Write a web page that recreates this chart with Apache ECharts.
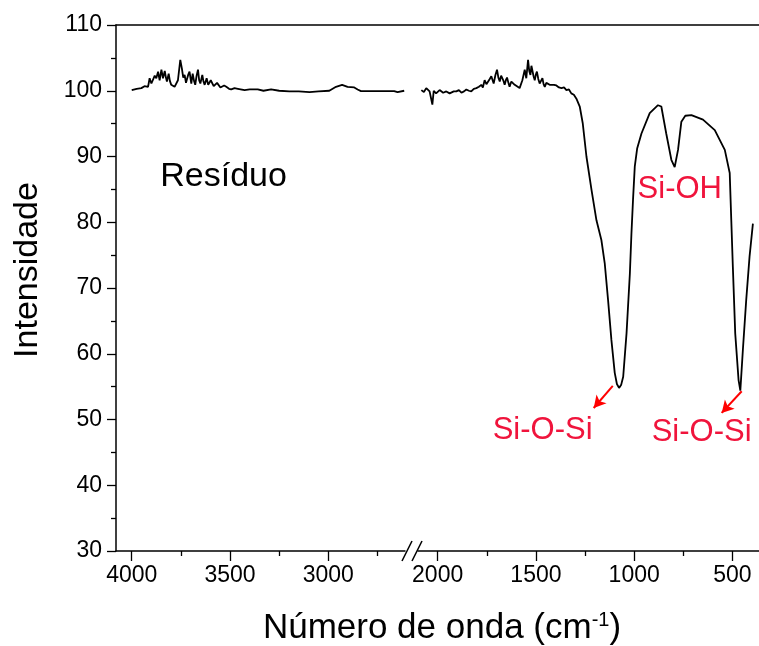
<!DOCTYPE html>
<html>
<head>
<meta charset="utf-8">
<title>FTIR Resíduo</title>
<script src="https://cdn.jsdelivr.net/npm/echarts@6/dist/echarts.min.js"></script>
<style>
  html, body { margin: 0; padding: 0; background: #fff; }
  #chartLine { width: 759px; height: 646px; }
</style>
</head>
<body>
<div id="chartLine"></div>
<script>
// segmento esquerdo (4000 - 2610 cm-1)
var waveLeft = [4000, 3975, 3951, 3935, 3917, 3909, 3900, 3892, 3883, 3875, 3866, 3858, 3849, 3841, 3832, 3826, 3821, 3812, 3806, 3799, 3790, 3782, 3765, 3753, 3745, 3738, 3731, 3724, 3718, 3712, 3706,
  3697, 3690, 3683, 3677, 3670, 3663, 3657, 3651, 3641, 3635, 3629, 3619, 3611, 3604, 3598, 3592, 3583, 3575, 3566, 3558, 3549, 3541, 3530, 3519, 3505, 3494, 3477, 3460, 3426, 3400, 3359, 3330, 3291,
  3250, 3198, 3150, 3096, 3050, 2995, 2961, 2930, 2902, 2868, 2851, 2834, 2741, 2665, 2648, 2614];
var intLeft = [100.1, 100.3, 100.4, 100.7, 100.6, 101.9, 101.1, 101.4, 102.3, 101.9, 102.9, 101.6, 103.2, 101.9, 103.0, 102.0, 101.4, 102.6, 101.5, 100.9, 101.2, 100.6, 101.6, 104.7, 103.4, 102.0, 102.4, 101.2, 101.4, 102.5, 102.9,
  101.1, 102.6, 101.5, 100.9, 102.3, 103.2, 101.6, 101.1, 102.4, 101.4, 100.9, 101.9, 100.9, 100.8, 101.6, 101.4, 100.7, 100.6, 101.2, 101.0, 100.5, 100.4, 100.8, 100.6, 100.3, 100.2, 100.4, 100.3, 100.1, 100.2, 100.2, 100.0, 100.2,
  100.0, 99.9, 99.9, 99.8, 99.9, 100.0, 100.6, 100.9, 100.6, 100.5, 100.2, 99.95, 99.95, 99.95, 99.8, 100.0];

// segmento direito (2100 - 365 cm-1)
var waveRight = [2083, 2070, 2058, 2041, 2027, 2020, 2008, 1998, 1990, 1981, 1972, 1964, 1956, 1948, 1939, 1930, 1918, 1905, 1892, 1879, 1866, 1854, 1841, 1829, 1816, 1803, 1790, 1778, 1770, 1761, 1752, 1744, 1735, 1727, 1715,
  1706, 1698, 1691, 1684, 1677, 1671, 1665, 1659, 1653, 1647, 1640, 1634, 1625, 1617, 1608, 1600, 1583, 1569, 1557, 1549, 1540, 1534, 1528, 1523, 1518, 1512, 1506, 1500, 1495, 1488, 1481, 1474, 1467, 1461, 1455,
  1447, 1439, 1430, 1421, 1408, 1396, 1383, 1370, 1357, 1345, 1332, 1320, 1307, 1294, 1277, 1262, 1243, 1217, 1192, 1167, 1150, 1133, 1116, 1099, 1088, 1077, 1066, 1056,
  1039, 1022, 1014, 1006, 997, 985, 963, 921, 879, 862, 837, 811, 794, 777, 760, 740, 709, 650, 590, 539, 514, 506,
  498, 486, 469, 460, 447, 430, 413, 396];
var intRight = [100.1, 99.8, 100.4, 99.9, 97.9, 100.0, 99.6, 99.7, 100.1, 100.2, 99.7, 99.4, 99.9, 100.0, 99.6, 99.5, 99.9, 99.9, 100.1, 99.7, 99.9, 100.2, 100.0, 99.9, 100.3, 100.4, 100.6, 100.9, 100.5, 101.6, 101.0, 100.9, 101.8, 102.2, 101.1,
  102.4, 103.2, 102.0, 101.4, 102.3, 102.6, 101.5, 100.9, 101.6, 102.0, 101.2, 100.6, 101.4, 101.6, 100.9, 100.6, 100.4, 101.6, 103.2, 101.9, 104.7, 103.0, 102.4, 103.8, 103.6, 102.2, 101.6, 102.5, 102.9, 101.8, 101.1, 101.5, 101.9, 101.0, 100.6,
  101.2, 101.4, 100.9, 100.6, 100.9, 100.8, 100.5, 100.4, 100.5, 100.1, 100.2, 99.6, 99.4, 98.8, 97.6, 95.1, 90.0, 84.9, 80.3, 77.3, 73.8, 68.2, 62.1, 57.1, 55.4, 54.8, 55.3, 56.5,
  63.1, 72.2, 78.3, 83.4, 88.5, 91.2, 93.5, 96.6, 97.8, 97.6, 93.5, 89.5, 88.4, 91.0, 95.3, 96.2, 96.3, 95.6, 94.0, 91.0, 87.5, 80.3,
  73.2, 63.1, 56.0, 54.4, 60.6, 68.2, 74.8, 79.8];

// ticks
var ticksLeft = [4000, 3500, 3000];
var minorLeft = [3750, 3250, 2750];
var ticksRight = [2000, 1500, 1000, 500];
var minorRight = [1750, 1250, 750];

function pairs(xs, ys) {
  var out = [];
  for (var i = 0; i < xs.length; i++) out.push([xs[i], ys[i]]);
  return out;
}

var FONT = '"Liberation Sans", Arial, sans-serif';
var RED = '#f0143c';
var GL = 116, GT = 25, GH = 526, BREAK_L = 405, BREAK_R = 418;

var chartLine = echarts.init(document.getElementById('chartLine'));

function xBottom(grid, min, max, major) {
  return {
    type: 'value', gridIndex: grid, position: 'bottom', inverse: true, min: min, max: max,
    axisLine: { show: true, lineStyle: { color: '#000', width: 1.5 } },
    axisTick: { show: true, length: 10, customValues: major, lineStyle: { color: '#000', width: 1.3 } },
    axisLabel: {
      show: true, customValues: major, margin: 13, color: '#000', fontSize: 23, fontFamily: FONT,
      formatter: function (v) { return String(v); }
    },
    splitLine: { show: false }
  };
}
function xMinor(grid, min, max, minor) {
  return {
    type: 'value', gridIndex: grid, position: 'bottom', inverse: true, min: min, max: max, offset: 0,
    axisLine: { show: false },
    axisTick: { show: true, length: 5, customValues: minor, lineStyle: { color: '#000', width: 1.3 } },
    axisLabel: { show: false },
    splitLine: { show: false }
  };
}
function yHidden(grid) {
  return { type: 'value', gridIndex: grid, min: 30, max: 110, show: false, splitLine: { show: false } };
}

chartLine.setOption({
  animation: false,
  backgroundColor: '#fff',
  grid: [
    { left: GL, top: GT, width: BREAK_L - GL, height: GH },
    { left: BREAK_R, top: GT, right: 0, height: GH },
    { left: GL, top: GT, right: 0, height: GH } // moldura de cima
  ],
  xAxis: [
    xBottom(0, 2610, 4080, ticksLeft),
    xMinor(0, 2610, 4080, minorLeft),
    xBottom(1, 365, 2100, ticksRight),
    xMinor(1, 365, 2100, minorRight),
    {
      type: 'value', gridIndex: 2, position: 'top', min: 0, max: 1,
      axisLine: { show: true, lineStyle: { color: '#000', width: 1.5 } },
      axisTick: { show: false }, axisLabel: { show: false }, splitLine: { show: false }
    }
  ],
  yAxis: [
    {
      type: 'value', gridIndex: 0, position: 'left', min: 30, max: 110, interval: 10,
      axisLine: { show: true, lineStyle: { color: '#000', width: 1.5 } },
      axisTick: { show: true, length: 9, lineStyle: { color: '#000', width: 1.3 } },
      minorTick: { show: true, splitNumber: 2, length: 5, lineStyle: { color: '#000', width: 1.3 } },
      axisLabel: { margin: 14, color: '#000', fontSize: 23, fontFamily: FONT },
      splitLine: { show: false }
    },
    yHidden(1),
    yHidden(2)
  ],
  series: [
    {
      name: 'left', type: 'line', xAxisIndex: 0, yAxisIndex: 0,
      data: pairs(waveLeft, intLeft), showSymbol: false, symbol: 'none',
      lineStyle: { color: '#000', width: 1.8 },
      markPoint: {
        symbolSize: 0,
        label: { show: true, position: 'inside', color: '#000', fontSize: 34, fontFamily: FONT, formatter: '{b}' },
        data: [{ name: 'Resíduo', coord: [3533, 86.9] }]
      }
    },
    {
      name: 'right', type: 'line', xAxisIndex: 2, yAxisIndex: 1,
      data: pairs(waveRight, intRight), showSymbol: false, symbol: 'none',
      lineStyle: { color: '#000', width: 1.8 },
      markPoint: {
        symbolSize: 0,
        label: { show: true, position: 'inside', color: RED, fontSize: 31, fontFamily: FONT, formatter: '{b}' },
        data: [
          { name: 'Si-OH', coord: [768, 85.05] },
          { name: 'Si-O-Si', coord: [1466, 48.4] },
          { name: 'Si-O-Si', coord: [657, 48.1] }
        ]
      },
      markLine: {
        silent: true,
        symbol: ['none', 'arrow'],
        symbolSize: [10, 12],
        label: { show: false },
        lineStyle: { color: '#ff0000', width: 2, type: 'solid' },
        data: [
          [{ coord: [1109, 55.1] }, { coord: [1206, 51.75] }],
          [{ coord: [453, 54.3] }, { coord: [555, 51.0] }]
        ]
      }
    }
  ],
  graphic: [
    {
      type: 'text', x: 28, y: 270, rotation: Math.PI / 2,
      style: { text: 'Intensidade', fontSize: 34, fontFamily: FONT, fill: '#000', align: 'center', verticalAlign: 'middle' }
    },
    {
      type: 'text', x: 442, y: 628,
      style: {
        text: '{n|Número de onda (cm}{s|-1}{n|)}',
        align: 'center', verticalAlign: 'middle',
        rich: {
          n: { fontSize: 35, fontFamily: FONT, fill: '#000', color: '#000' },
          s: { fontSize: 20, fontFamily: FONT, fill: '#000', color: '#000', padding: [0, 0, 16, 0] }
        }
      }
    },
    // quebra do eixo
    { type: 'line', shape: { x1: BREAK_L - 3, y1: GT + GH + 10, x2: BREAK_L + 7, y2: GT + GH - 10 }, style: { stroke: '#000', lineWidth: 1.5 } },
    { type: 'line', shape: { x1: BREAK_L + 7, y1: GT + GH + 10, x2: BREAK_L + 17, y2: GT + GH - 10 }, style: { stroke: '#000', lineWidth: 1.5 } }
  ]
});
</script>
</body>
</html>
